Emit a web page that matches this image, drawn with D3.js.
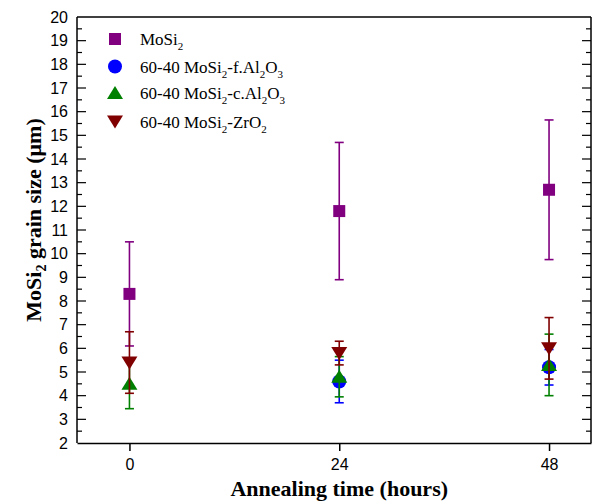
<!DOCTYPE html>
<html><head><meta charset="utf-8">
<script src="https://cdn.jsdelivr.net/npm/d3@7"></script>
<style>body{margin:0;background:#fff}svg{display:block}</style>
</head><body>
<script>
const hours = [0, 24, 48];
const mosi2 = [8.3, 11.8, 12.7];
const mosi2Err = [2.2, 2.9, 2.95];
const fAl2O3 = [null, 4.6, 5.2];
const fAl2O3Err = [null, 0.9, 0.75];
const cAl2O3 = [4.5, 4.8, 5.3];
const cAl2O3Err = [1.05, 0.85, 1.3];
const zrO2 = [5.4, 5.8, 6.0];
const zrO2Err = [1.3, 0.5, 1.3];
const yTicks = d3.range(2, 21, 1);
const xTicks = [0, 24, 48];

const W = 592, H = 501;
const svg = d3.select("body").append("svg").attr("width", W).attr("height", H);
const x = d3.scaleLinear().domain([-6, 52.8]).range([77, 591]);
const y = d3.scaleLinear().domain([2, 20]).range([443, 17]);

const series = [
  {name: "MoSi2", vals: mosi2, err: mosi2Err, color: "#800080", shape: "square", label: [["MoSi",0],["2",1]]},
  {name: "f", vals: fAl2O3, err: fAl2O3Err, color: "#0000ff", shape: "circle", label: [["60-40 MoSi",0],["2",1],["-f.Al",0],["2",1],["O",0],["3",1]]},
  {name: "c", vals: cAl2O3, err: cAl2O3Err, color: "#008000", shape: "up", label: [["60-40 MoSi",0],["2",1],["-c.Al",0],["2",1],["O",0],["3",1]]},
  {name: "z", vals: zrO2, err: zrO2Err, color: "#800000", shape: "down", label: [["60-40 MoSi",0],["2",1],["-ZrO",0],["2",1]]}
];

function marker(g, shape, color) {
  if (shape === "square") g.append("rect").attr("x", -6).attr("y", -6).attr("width", 12).attr("height", 12).attr("fill", color);
  else if (shape === "circle") g.append("circle").attr("r", 7).attr("fill", color);
  else if (shape === "up") g.append("path").attr("d", "M0,-7L8,6L-8,6Z").attr("fill", color);
  else g.append("path").attr("d", "M0,7L8,-6L-8,-6Z").attr("fill", color);
}

// frame
const frame = svg.append("g").attr("stroke", "#000").attr("stroke-width", 1.5).attr("fill", "none");
frame.append("line").attr("x1", x(-6)).attr("x2", x(52.8)).attr("y1", y(20)).attr("y2", y(20));
frame.append("line").attr("x1", x(52.8)).attr("x2", x(52.8)).attr("y1", y(20)).attr("y2", y(2));

// left axis with inward ticks
const minor = d3.range(2.5, 20, 1);
const axL = svg.append("g");
axL.append("line").attr("x1", 77).attr("x2", 77).attr("y1", y(2)).attr("y2", y(20)).attr("stroke", "#000").attr("stroke-width", 1.5);
axL.selectAll(".maj").data(yTicks.slice(1, -1)).join("line")
  .attr("x1", 77).attr("x2", 86).attr("y1", d => y(d)).attr("y2", d => y(d)).attr("stroke", "#000").attr("stroke-width", 1.2);
axL.selectAll(".min").data(minor).join("line").attr("class","min")
  .attr("x1", 77).attr("x2", 82).attr("y1", d => y(d)).attr("y2", d => y(d)).attr("stroke", "#000").attr("stroke-width", 1.2);
axL.selectAll("text").data(yTicks).join("text")
  .attr("x", 68).attr("y", d => y(d)).attr("dy", "0.36em").attr("text-anchor", "end")
  .attr("font-family", "Liberation Sans, Arial, sans-serif").attr("font-size", 16).text(d => d);

// right axis inward ticks
const axR = svg.append("g");
axR.selectAll(".maj").data(yTicks.slice(1, -1)).join("line")
  .attr("x1", 591).attr("x2", 582).attr("y1", d => y(d)).attr("y2", d => y(d)).attr("stroke", "#000").attr("stroke-width", 1.2);
axR.selectAll(".min").data(minor).join("line").attr("class","min")
  .attr("x1", 591).attr("x2", 586).attr("y1", d => y(d)).attr("y2", d => y(d)).attr("stroke", "#000").attr("stroke-width", 1.2);

// bottom axis
const axB = svg.append("g").attr("transform", `translate(0,${y(2)})`)
  .call(d3.axisBottom(x).tickValues(xTicks).tickSize(8).tickPadding(8).tickSizeOuter(0));
axB.select(".domain").attr("stroke-width", 1.5);
axB.selectAll(".tick line").attr("stroke-width", 1.5);
axB.selectAll("text").attr("font-family", "Liberation Sans, Arial, sans-serif").attr("font-size", 16).attr("fill", "#000");

// axis titles
svg.append("text").attr("x", x(24)).attr("y", 496).attr("text-anchor", "middle")
  .attr("font-family", "Liberation Serif, Times New Roman, serif").attr("font-weight", "bold").attr("font-size", 22)
  .text("Annealing time (hours)");
const yl = svg.append("text").attr("transform", "translate(41,220) rotate(-90)").attr("text-anchor", "middle")
  .attr("font-family", "Liberation Serif, Times New Roman, serif").attr("font-weight", "bold").attr("font-size", 22);
yl.append("tspan").text("MoSi");
yl.append("tspan").attr("dy", 5).attr("font-size", 14).text("2");
yl.append("tspan").attr("dy", -5).text(" grain size (μm)");

// data
series.forEach(s => {
  const g = svg.append("g");
  hours.forEach((h, i) => {
    const v = s.vals[i], e = s.err[i];
    if (v == null) return;
    const cx = x(h);
    g.append("line").attr("x1", cx).attr("x2", cx).attr("y1", y(v - e)).attr("y2", y(v + e)).attr("stroke", s.color).attr("stroke-width", 1.6);
    [v - e, v + e].forEach(t => g.append("line").attr("x1", cx - 4.5).attr("x2", cx + 4.5).attr("y1", y(t)).attr("y2", y(t)).attr("stroke", s.color).attr("stroke-width", 1.6));
    marker(g.append("g").attr("transform", `translate(${cx},${y(v)})`), s.shape, s.color);
  });
});

// legend
const legY = [39, 66.5, 93, 121.5];
series.forEach((s, i) => {
  marker(svg.append("g").attr("transform", `translate(115,${legY[i]})`), s.shape, s.color);
  const t = svg.append("text").attr("x", 140).attr("y", legY[i] + 6)
    .attr("font-family", "Liberation Serif, Times New Roman, serif").attr("font-size", 17);
  let sub = 0;
  s.label.forEach(([txt, isSub]) => {
    const dy = isSub && !sub ? 5 : (!isSub && sub ? -5 : 0);
    t.append("tspan").attr("dy", dy).attr("font-size", isSub ? 11 : 17).text(txt);
    sub = isSub;
  });
});
</script>
</body></html>
